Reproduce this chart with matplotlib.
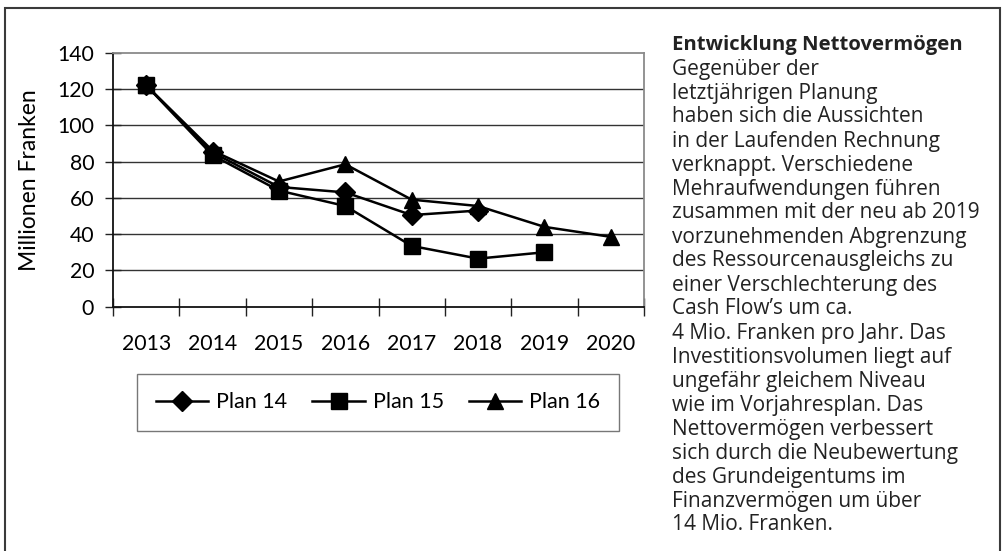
import matplotlib
matplotlib.use("Agg")
import matplotlib.pyplot as plt
from matplotlib.patches import Rectangle
from matplotlib.lines import Line2D

years = ["2013", "2014", "2015", "2016", "2017", "2018", "2019", "2020"]
plan14 = [122, 85, 66, 63, 50.5, 53]
plan15 = [122, 83.5, 64, 55.5, 33.5, 26.5, 30]
plan16 = [122, 86, 69, 78.5, 59, 55.5, 44, 38.5]
series_names = ["Plan 14", "Plan 15", "Plan 16"]
y_ticks = [0, 20, 40, 60, 80, 100, 120, 140]
y_label = "Millionen Franken"
text_title = "Entwicklung Nettovermögen"
text_lines = [
    "Gegenüber der",
    "letztjährigen Planung",
    "haben sich die Aussichten",
    "in der Laufenden Rechnung",
    "verknappt. Verschiedene",
    "Mehraufwendungen führen",
    "zusammen mit der neu ab 2019",
    "vorzunehmenden Abgrenzung",
    "des Ressourcenausgleichs zu",
    "einer Verschlechterung des",
    "Cash Flow’s um ca.",
    "4 Mio. Franken pro Jahr. Das",
    "Investitionsvolumen liegt auf",
    "ungefähr gleichem Niveau",
    "wie im Vorjahresplan. Das",
    "Nettovermögen verbessert",
    "sich durch die Neubewertung",
    "des Grundeigentums im",
    "Finanzvermögen um über",
    "14 Mio. Franken.",
]

W, H = 1007, 551
fig = plt.figure(figsize=(W / 100, H / 100), dpi=100)
fig.patch.set_facecolor("white")

# outer frame
fig.patches.append(Rectangle((5 / W, -0.05), 995 / W, 1.05 - 8 / H,
                             transform=fig.transFigure, fill=False,
                             edgecolor="#3a3a3a", linewidth=1.5))

ax = fig.add_axes([113 / W, 1 - 306.7 / H, 531 / W, 254 / H])
ax.set_xlim(0, 8)
ax.set_ylim(0, 140)

tick_font = dict(family=["Lato", "DejaVu Sans"], size=15.3)

for yv in y_ticks[1:-1]:
    ax.axhline(yv, color="#333333", linewidth=1.0, zorder=1)

markers = ["D", "s", "^"]
msizes = [10, 11.5, 11]
for vals, m, ms, name in zip([plan14, plan15, plan16], markers, msizes, series_names):
    xs = [i + 0.5 for i in range(len(vals))]
    ax.plot(xs, vals, color="black", linewidth=1.8, marker=m, markersize=ms,
            markerfacecolor="black", markeredgecolor="black", label=name,
            zorder=3, clip_on=False)

ax.set_yticks(y_ticks)
ax.set_yticklabels([str(v) for v in y_ticks], fontdict=tick_font)
ax.set_xticks(range(0, 9))
ax.set_xticklabels([""] * 9)
ax.set_xticks([i + 0.5 for i in range(8)], minor=True)
ax.set_xticklabels(years, minor=True, fontdict=tick_font)
ax.tick_params(axis="y", which="major", direction="inout", length=11,
               width=1.0, color="#222222", pad=8)
ax.tick_params(axis="x", which="major", direction="inout", length=13,
               width=1.0, color="#222222")
ax.tick_params(axis="x", which="minor", length=0, pad=20)

for side in ["left", "bottom"]:
    ax.spines[side].set_color("#111111")
    ax.spines[side].set_linewidth(1.3)
for side in ["top", "right"]:
    ax.spines[side].set_color("#8a8a8a")
    ax.spines[side].set_linewidth(1.3)

ax.set_ylabel(y_label, family=["Lato", "DejaVu Sans"], size=16.5)
ax.yaxis.set_label_coords(-(113 - 40) / 531, 0.5)

handles = [Line2D([0], [0], color="black", linewidth=1.8, marker=m, markersize=ms)
           for m, ms in zip(markers, msizes)]
leg = fig.legend(handles, series_names, loc="center",
                 bbox_to_anchor=(378 / W, 1 - 402.5 / H), ncol=3,
                 prop=dict(family="Lato", size=15.5), frameon=True,
                 fancybox=False, edgecolor="#555555", handlelength=2.42,
                 handletextpad=0.37, columnspacing=1.16, borderpad=0.88,
                 borderaxespad=0)
leg.get_frame().set_linewidth(1.0)

text_font = ["Open Sans", "DejaVu Sans"]
x0 = 672 / W
fig.text(x0, 1 - 45 / H, text_title, family=text_font, size=14.6,
         weight="bold", color="#222222", va="center", ha="left")
for i, line in enumerate(text_lines):
    fig.text(x0, 1 - (45 + (i + 1) * 24.0) / H, line, family=text_font,
             size=15.0, color="#222222", va="center", ha="left")

fig.savefig("out.png", dpi=100)
